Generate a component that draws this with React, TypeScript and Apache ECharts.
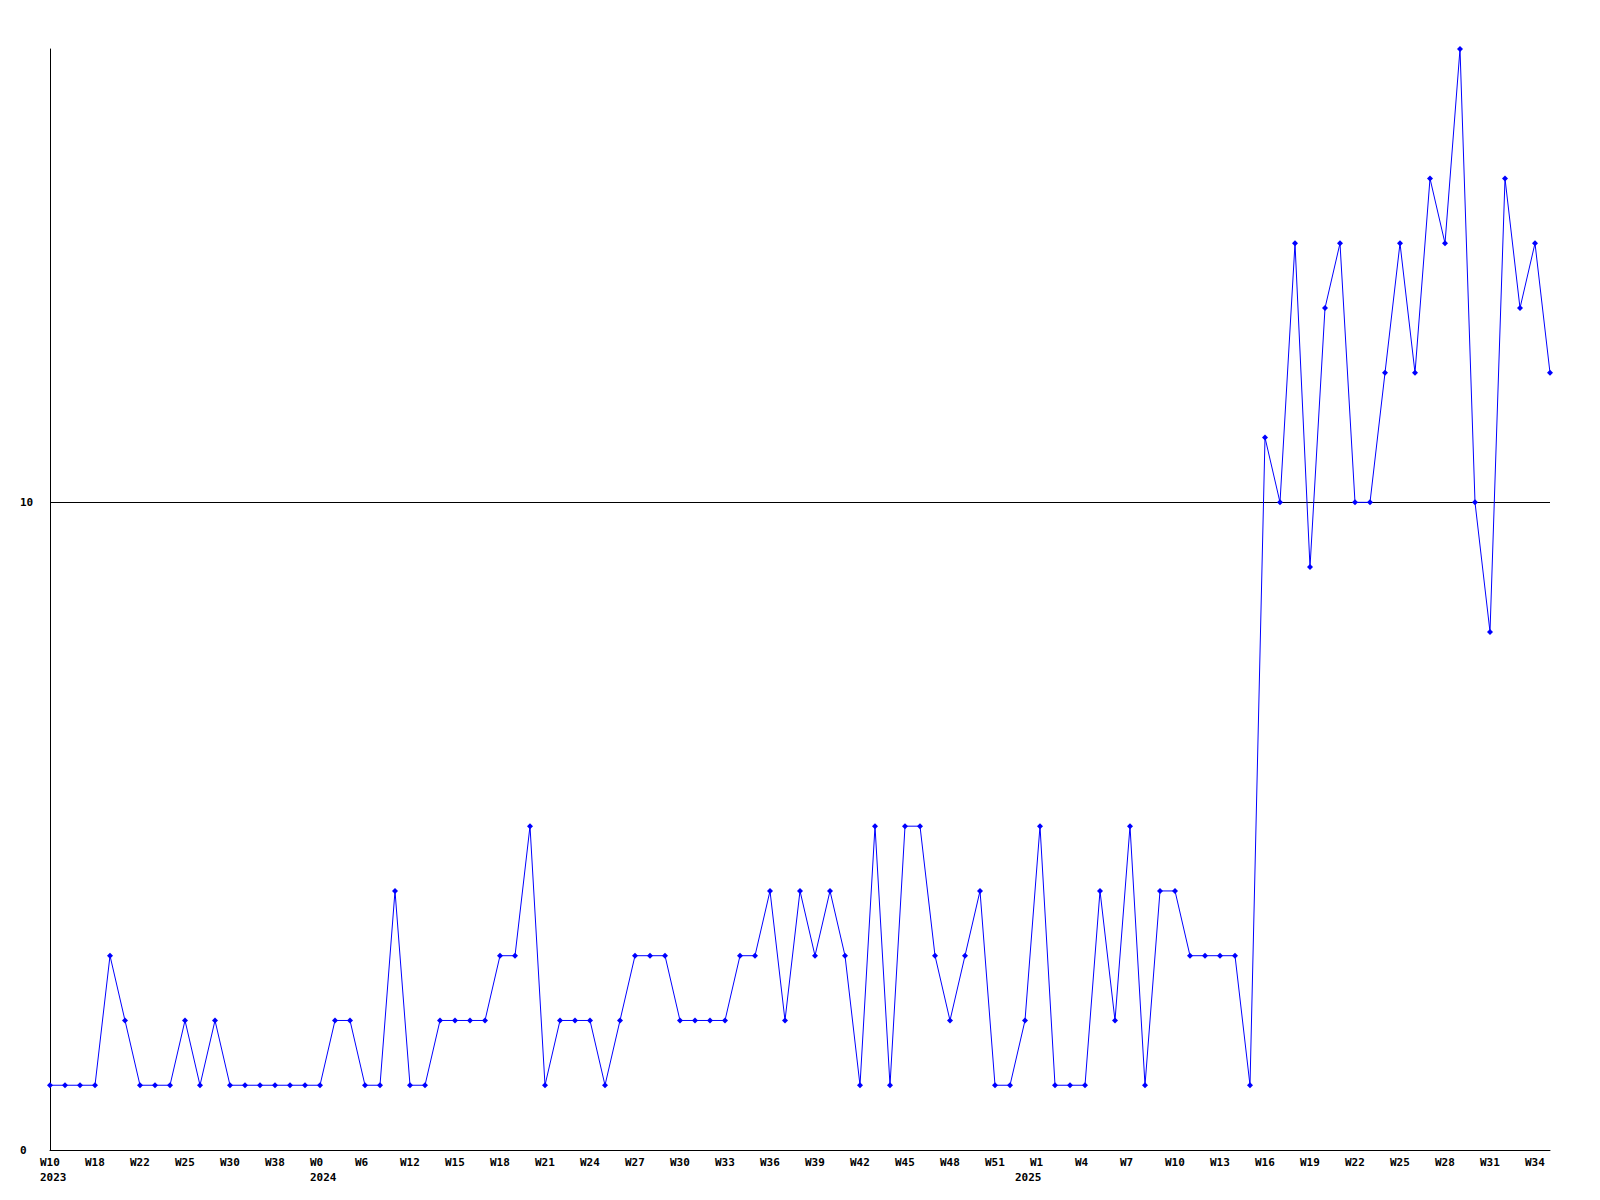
import React, { useEffect, useRef } from "react";
import * as echarts from "echarts";

const weeks2023 = ["W10", "W12", "W15", "W18", "W19", "W20", "W22", "W23", "W24", "W25", "W27", "W28", "W30", "W32", "W35", "W38", "W42", "W47"];
const weeks2024 = [
  "W0", "W2", "W4", "W6", "W8", "W10", "W12", "W13", "W14", "W15", "W16", "W17", "W18", "W19", "W20",
  "W21", "W22", "W23", "W24", "W25", "W26", "W27", "W28", "W29", "W30", "W31", "W32", "W33", "W34",
  "W35", "W36", "W37", "W38", "W39", "W40", "W41", "W42", "W43", "W44", "W45", "W46", "W47", "W48",
  "W49", "W50", "W51", "W52",
];
const weeks2025 = [
  "W0", "W1", "W2", "W3", "W4", "W5", "W6", "W7", "W8", "W9", "W10", "W11", "W12", "W13", "W14",
  "W15", "W16", "W17", "W18", "W19", "W20", "W21", "W22", "W23", "W24", "W25", "W26", "W27", "W28",
  "W29", "W30", "W31", "W32", "W33", "W34", "W35",
];

const values = [
  1, 1, 1, 1, 3, 2, 1, 1, 1, 2, 1, 2, 1, 1, 1, 1, 1, 1,
  1, 2, 2, 1, 1, 4, 1, 1, 2, 2, 2, 2, 3, 3, 5, 1, 2, 2, 2, 1, 2, 3, 3, 3, 2, 2, 2, 2, 3, 3, 4, 2,
  4, 3, 4, 3, 1, 5, 1, 5, 5, 3, 2, 3, 4, 1, 1,
  2, 5, 1, 1, 1, 4, 2, 5, 1, 4, 4, 3, 3, 3, 3, 1, 11, 10, 14, 9, 13, 14, 10, 10, 12, 14, 12, 15,
  14, 17, 10, 8, 15, 13, 14, 12,
];

const yTicks = { min: 0, max: 17, interval: 10 };
const refLineValue = 10;

const categories = [
  ...weeks2023.map((w) => ({ week: w, year: "2023" })),
  ...weeks2024.map((w) => ({ week: w, year: "2024" })),
  ...weeks2025.map((w) => ({ week: w, year: "2025" })),
];

const FONT = "DejaVu Sans Mono";

const richA = {
  a: {
    width: 20,
    align: "left",
    fontFamily: FONT,
    fontWeight: "bold",
    fontSize: 11,
    lineHeight: 15,
    color: "#000",
  },
};

export default function App() {
  const ref = useRef<HTMLDivElement>(null);
  useEffect(() => {
    if (!ref.current) return;
    const chart = echarts.init(ref.current, undefined, { renderer: "svg" });
    const cats = categories.map((c) => c.year + "|" + c.week);
    const isYearStart = (i: number) => i === 0 || categories[i - 1].year !== categories[i].year;
    chart.setOption({
      animation: false,
      backgroundColor: "#ffffff",
      grid: { left: 50, right: 50, top: 49, bottom: 50, containLabel: false },
      xAxis: [
        {
          type: "category",
          data: cats,
          boundaryGap: false,
          axisLine: { show: true, lineStyle: { color: "#000", width: 1 } },
          axisTick: { show: false },
          splitLine: { show: false },
          axisLabel: {
            interval: 2,
            margin: 5,
            align: "center",
            formatter: (v: string) => "{a|" + v.split("|")[1] + "}",
            rich: richA,
          },
        },
        {
          type: "category",
          data: cats,
          position: "bottom",
          boundaryGap: false,
          axisLine: { show: false },
          axisTick: { show: false },
          splitLine: { show: false },
          axisLabel: {
            interval: (i: number) => isYearStart(i),
            margin: 20,
            align: "center",
            formatter: (v: string) => "{a|" + v.split("|")[0] + "}",
            rich: richA,
          },
        },
      ],
      yAxis: {
        type: "value",
        min: yTicks.min,
        max: yTicks.max,
        interval: yTicks.interval,
        axisLine: { show: true, lineStyle: { color: "#000", width: 1 } },
        axisTick: { show: false },
        splitLine: { show: false },
        axisLabel: {
          showMaxLabel: false,
          align: "left",
          margin: 30,
          fontFamily: FONT,
          fontWeight: "bold",
          fontSize: 11,
          color: "#000",
        },
      },
      series: [
        {
          type: "line",
          data: values,
          xAxisIndex: 0,
          symbol: "diamond",
          symbolSize: 6,
          showSymbol: true,
          lineStyle: { color: "#0000ff", width: 1 },
          itemStyle: { color: "#0000ff" },
          z: 3,
          markLine: {
            silent: true,
            symbol: "none",
            label: { show: false },
            lineStyle: { color: "#000", width: 1, type: "solid" },
            data: [{ yAxis: refLineValue }],
            z: 2,
          },
        },
      ],
    });
    return () => chart.dispose();
  }, []);
  return (
    <div
      ref={ref}
      style={{ position: "fixed", left: 0, top: 0, width: 1600, height: 1200, background: "#fff" }}
    />
  );
}
